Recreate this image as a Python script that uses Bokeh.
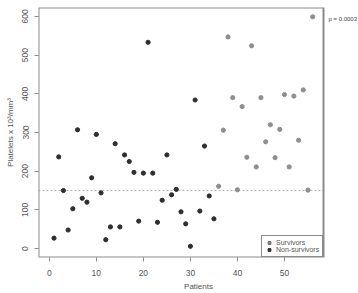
from bokeh.plotting import figure
from bokeh.models import (ColumnDataSource, Range1d, FixedTicker, Legend,
                          LegendItem, Label, BoxAnnotation)
from bokeh.embed import file_html
from bokeh.resources import INLINE

# ---- data ----
nonsurv_patient = list(range(1, 36))
nonsurv_platelets = [27, 237, 150, 48, 103, 307, 130, 120, 183, 295,
                     144, 23, 56, 271, 56, 242, 225, 197, 71, 195,
                     533, 195, 68, 125, 242, 139, 153, 95, 64, 6,
                     384, 97, 265, 136, 77]
surv_patient = list(range(36, 57))
surv_platelets = [161, 306, 547, 390, 152, 367, 236, 524, 211, 390,
                  276, 320, 235, 308, 398, 211, 394, 280, 410, 151, 599]
threshold = 150
x_ticks = [0, 10, 20, 30, 40, 50]
y_ticks = [0, 100, 200, 300, 400, 500, 600]
p_text = "p = 0.0003"

# ---- layout ----
FONT = "Liberation Sans"
BLACK = "#2e2e2e"
GRAY = "#8e8e8e"
W, H = 358, 293
LEFT, TOP, BOTTOM = 38, 7, 30
BOX_W = 285                      # plot box width in px (rest is margin for p-value)
x_lo, x_hi = -2.3, 58.3          # data extent of the plot box
y_lo, y_hi = -23, 623
frame_w = W - LEFT
x_end = x_lo + (x_hi - x_lo) * frame_w / BOX_W

p = figure(width=W, height=H, output_backend="svg", toolbar_location=None,
           x_range=Range1d(x_lo, x_end), y_range=Range1d(y_lo, y_hi),
           min_border_left=LEFT, min_border_right=0, min_border_top=TOP,
           min_border_bottom=BOTTOM)
p.xgrid.visible = False
p.ygrid.visible = False
p.outline_line_color = None
p.background_fill_color = "white"
p.border_fill_color = "white"

for ax in (p.xaxis[0], p.yaxis[0]):
    ax.axis_line_color = None
    ax.major_tick_line_color = "#8a8a8a"
    ax.major_tick_out = 4
    ax.major_tick_in = 0
    ax.minor_tick_line_color = None
    ax.major_label_text_font = FONT
    ax.major_label_text_font_size = "8.5px"
    ax.major_label_text_color = "#555555"
    ax.axis_label_text_font = FONT
    ax.axis_label_text_font_size = "8px"
    ax.axis_label_text_font_style = "normal"
    ax.axis_label_text_color = "#555555"

p.xaxis.ticker = FixedTicker(ticks=x_ticks)
p.yaxis.ticker = FixedTicker(ticks=y_ticks)
p.yaxis.major_label_orientation = "vertical"
p.xaxis.major_label_standoff = 8
p.yaxis.major_label_standoff = 6
p.xaxis.axis_label = "Patients"
p.yaxis.axis_label = "Platelets x 10³/mm³"
p.xaxis.axis_label_standoff = 3
p.yaxis.axis_label_standoff = 5

# plot box
p.add_layout(BoxAnnotation(left=x_lo, right=x_hi, bottom=y_lo, top=y_hi,
                           fill_alpha=0, line_color="#8a8a8a", line_alpha=1,
                           line_width=2, level="overlay"))

# threshold line across the box
p.segment(x0=[x_lo], y0=[threshold], x1=[x_hi], y1=[threshold],
          line_color="#b5b5b5", line_dash="2 2", line_width=1)

src_n = ColumnDataSource(dict(x=nonsurv_patient, y=nonsurv_platelets))
src_s = ColumnDataSource(dict(x=surv_patient, y=surv_platelets))
p.scatter("x", "y", source=src_n, size=4.2, color=BLACK)
p.scatter("x", "y", source=src_s, size=4.2, color=GRAY)

# legend swatches (renderers with no visible points, only the legend shows squares)
nan = float("nan")
leg_s = p.scatter(x=[nan], y=[nan], marker="square", size=6, fill_color=GRAY,
                  line_color="#666666")
leg_n = p.scatter(x=[nan], y=[nan], marker="square", size=6, fill_color=BLACK,
                  line_color=BLACK)
legend = Legend(items=[LegendItem(label="Survivors", renderers=[leg_s]),
                       LegendItem(label="Non-survivors", renderers=[leg_n])],
                location=(BOX_W - 62, 0), margin=0, padding=3, spacing=0,
                glyph_width=8, glyph_height=7, label_height=7,
                label_standoff=3, label_text_font=FONT,
                label_text_font_size="7px", label_text_color="#555555",
                border_line_color="#8a8a8a", border_line_width=1.2,
                border_line_alpha=1, background_fill_alpha=1)
p.add_layout(legend)

p.add_layout(Label(x=x_hi, y=592, x_offset=5, text=p_text, text_font=FONT,
                   text_font_size="6px", text_color="#444444",
                   text_baseline="middle"))

open("out.html", "w").write(file_html(p, INLINE))
